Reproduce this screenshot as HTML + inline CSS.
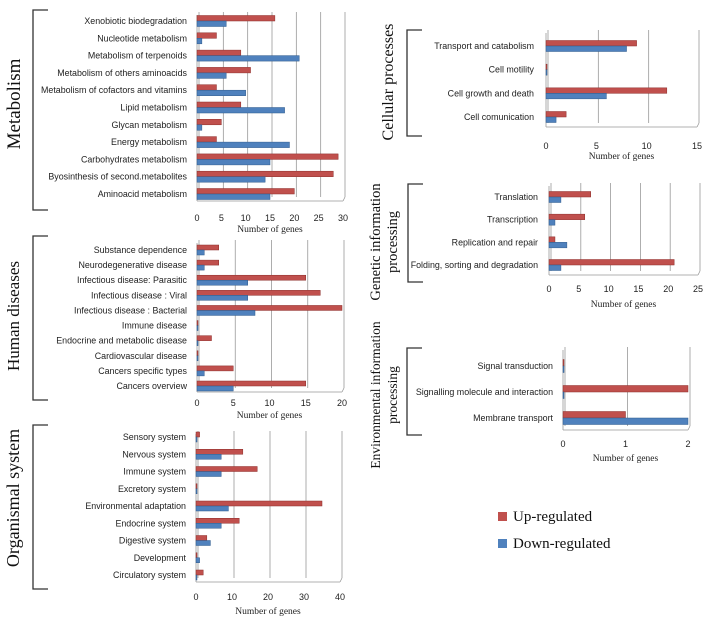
<!DOCTYPE html>
<html><head><meta charset="utf-8">
<style>
html,body{margin:0;padding:0;background:#fff;}
svg{display:block;}
.lab{font-family:"Liberation Sans",sans-serif;font-size:8.9px;fill:#222;}
.tick{font-family:"Liberation Sans",sans-serif;font-size:9px;fill:#222;}
.ttl{font-family:"Liberation Serif",serif;font-size:9.5px;fill:#222;}
.big{font-family:"Liberation Serif",serif;fill:#111;}
</style></head>
<body>
<svg id="chart" width="708" height="623" viewBox="0 0 708 623" xmlns="http://www.w3.org/2000/svg">
<g id="root"></g>
<g>
  <rect x="498" y="512" width="9" height="9" fill="#c0504d"/>
  <text x="513" y="521" class="big" font-size="15">Up-regulated</text>
  <rect x="498" y="539" width="9" height="9" fill="#4f81bd"/>
  <text x="513" y="548" class="big" font-size="15">Down-regulated</text>
</g>
</svg>
<script>
const metCats=["Xenobiotic biodegradation","Nucleotide metabolism","Metabolism of terpenoids","Metabolism of others aminoacids","Metabolism of cofactors and vitamins","Lipid metabolism","Glycan metabolism","Energy metabolism","Carbohydrates metabolism","Byosinthesis of second.metabolites","Aminoacid metabolism"];
const metUp=[16,4,9,11,4,9,5,4,29,28,20];
const metDown=[6,1,21,6,10,18,1,19,15,14,15];
const metTicks=[0,5,10,15,20,25,30];

const humCats=["Substance dependence","Neurodegenerative disease","Infectious disease: Parasitic","Infectious disease : Viral","Infectious disease : Bacterial","Immune disease","Endocrine and metabolic disease","Cardiovascular disease","Cancers specific types","Cancers overview"];
const humUp=[3,3,15,17,20,0,2,0,5,15];
const humDown=[1,1,7,7,8,0,0,0,1,5];
const humTicks=[0,5,10,15,20];

const orgCats=["Sensory system","Nervous system","Immune  system","Excretory system","Environmental adaptation","Endocrine system","Digestive system","Development","Circulatory system"];
const orgUp=[1,13,17,0,35,12,3,0,2];
const orgDown=[0,7,7,0,9,7,4,1,0];
const orgTicks=[0,10,20,30,40];

const celCats=["Transport and catabolism","Cell motility","Cell growth and death","Cell comunication"];
const celUp=[9,0,12,2];
const celDown=[8,0,6,1];
const celTicks=[0,5,10,15];

const genCats=["Translation","Transcription","Replication and repair","Folding, sorting and degradation"];
const genUp=[7,6,1,21];
const genDown=[2,1,3,2];
const genTicks=[0,5,10,15,20,25];

const envCats=["Signal transduction","Signalling molecule and interaction","Membrane transport"];
const envUp=[0,2,1];
const envDown=[0,0,2];
const envTicks=[0,1,2];

const NS="http://www.w3.org/2000/svg";
const root=document.getElementById('root');
function mk(tag,attrs,parent){const e=document.createElementNS(NS,tag);for(const k in attrs)e.setAttribute(k,attrs[k]);(parent||root).appendChild(e);return e;}

function panel(p){
  const g=mk('g',{});
  
  
  const max=p.ticks[p.ticks.length-1];
  const xs=v=>p.x0+(v/max)*(p.x1-p.x0);
  const n=p.cats.length;
  const step=(p.rowLast-p.rowFirst)/(n-1);
  const ys=i=>p.rowFirst+i*step;
  p.ticks.forEach(t=>{
    const gl=mk('line',{x1:xs(t)+2,y1:p.top,x2:xs(t)+2,y2:p.bot-4,stroke:'#999','stroke-width':0.8},g);
    
    
    const tl=mk('text',{x:xs(t),y:p.tickY,'text-anchor':'middle',class:'tick'},g);
    tl.textContent=t;
    
    
  });
  mk('line',{x1:p.x0,y1:p.top+3,x2:p.x0,y2:p.bot,stroke:'#999','stroke-width':0.8},g);
  mk('line',{x1:p.x0,y1:p.bot,x2:xs(max),y2:p.bot,stroke:'#999','stroke-width':0.8},g);
  mk('line',{x1:xs(max),y1:p.bot,x2:xs(max)+2,y2:p.bot-4,stroke:'#999','stroke-width':0.8},g);
  const bh=p.bh;
  p.cats.forEach((c,i)=>{
    const y=ys(i);
    const r=mk('rect',{x:p.x0,y:y-bh,width:Math.max(xs(p.up[i])-p.x0,1),height:bh,fill:'#c0504d',stroke:'#8c2e2b','stroke-width':0.5},g);
    
    
    const b=mk('rect',{x:p.x0,y:y,width:Math.max(xs(p.down[i])-p.x0,1),height:bh,fill:'#4f81bd',stroke:'#2f5a8c','stroke-width':0.5},g);
    
    
    const t=mk('text',{x:p.labX,y:y+3,'text-anchor':'end',class:'lab'},g);
    t.textContent=c;
    
    
  });
  const tt=mk('text',{x:(p.x0+xs(max))/2,y:p.titleY,'text-anchor':'middle',class:'ttl'},g);
  tt.textContent='Number of genes';
  
  
  const br=mk('path',{d:`M${p.bx+15},${p.by0} H${p.bx} V${p.by1} H${p.bx+15}`,fill:'none',stroke:'#333','stroke-width':1.3},g);
  
  
  p.group.forEach((line,k)=>{
    const cx=p.gx[k], cy=p.gcy;
    const gt=mk('text',{x:cx,y:cy,'text-anchor':'middle',transform:`rotate(-90 ${cx} ${cy})`,class:'big','font-size':p.gfs},g);
    gt.textContent=line;
    
    
  });
}

panel({name:'metabolism-panel',cats:metCats,up:metUp,down:metDown,ticks:metTicks,x0:197,x1:343,top:12,bot:201,rowFirst:21,rowLast:194,bh:5.5,labX:187,tickY:221,titleY:232,bx:33,by0:10,by1:210,group:['Metabolism'],gx:[20],gcy:104,gfs:19});
panel({name:'human-diseases-panel',cats:humCats,up:humUp,down:humDown,ticks:humTicks,x0:197,x1:342,top:240,bot:392,rowFirst:250,rowLast:386,bh:5,labX:187,tickY:406,titleY:418,bx:33,by0:236,by1:400,group:['Human diseases'],gx:[19],gcy:316,gfs:17});
panel({name:'organismal-system-panel',cats:orgCats,up:orgUp,down:orgDown,ticks:orgTicks,x0:196,x1:340,top:431,bot:582,rowFirst:437,rowLast:575,bh:5,labX:186,tickY:600,titleY:614,bx:33,by0:425,by1:589,group:['Organismal system'],gx:[19],gcy:498,gfs:18});
panel({name:'cellular-processes-panel',cats:celCats,up:celUp,down:celDown,ticks:celTicks,x0:546,x1:697,top:30,bot:127,rowFirst:46,rowLast:117,bh:5.5,labX:534,tickY:149,titleY:159,bx:407,by0:30,by1:136,group:['Cellular processes'],gx:[393],gcy:82,gfs:16});
panel({name:'genetic-information-panel',cats:genCats,up:genUp,down:genDown,ticks:genTicks,x0:549,x1:698,top:183,bot:275,rowFirst:197,rowLast:265,bh:5.5,labX:538,tickY:292,titleY:307,bx:408,by0:184,by1:282,group:['Genetic information','processing'],gx:[380,397],gcy:242,gfs:14.5});
panel({name:'environmental-information-panel',cats:envCats,up:envUp,down:envDown,ticks:envTicks,x0:563,x1:688,top:347,bot:430,rowFirst:366,rowLast:418,bh:6.5,labX:553,tickY:447,titleY:461,bx:407,by0:348,by1:435,group:['Environmental information','processing'],gx:[380,397],gcy:395,gfs:13.5});
</script>
</body></html>
